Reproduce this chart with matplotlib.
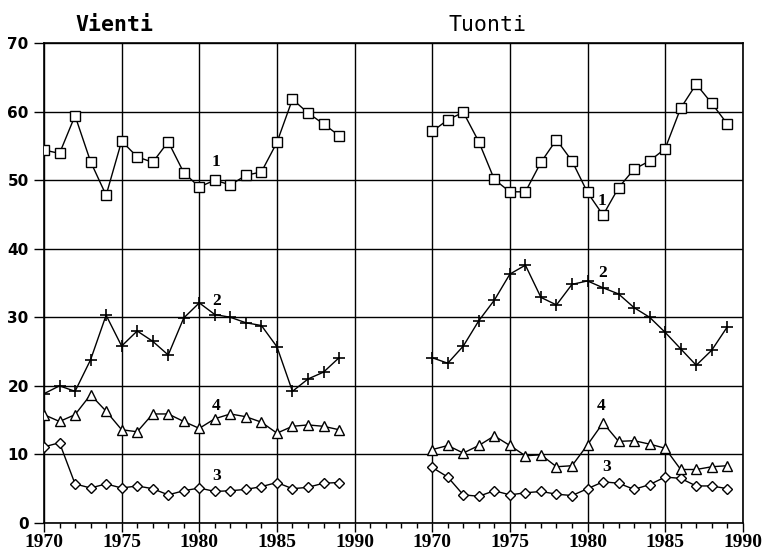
import matplotlib
matplotlib.use("Agg")
import matplotlib.pyplot as plt
from matplotlib.ticker import FixedLocator, MultipleLocator

# vuodet 1970-1989, tuonti piirretään samaan kuvaan 25 vuotta siirrettynä
vuodet = list(range(1970, 1990))
SIIRTO = 25

vienti_1 = [54.4, 53.9, 59.4, 52.7, 47.8, 55.7, 53.4, 52.6, 55.6, 51.1,
            49.0, 50.0, 49.3, 50.7, 51.2, 55.5, 61.8, 59.8, 58.2, 56.5]
vienti_2 = [18.85, 20.0, 19.2, 23.8, 30.3, 25.8, 28.0, 26.5, 24.5, 29.9,
            32.1, 30.4, 30.0, 29.2, 28.8, 25.7, 19.2, 21.0, 22.0, 24.1]
vienti_3 = [11.1, 11.7, 5.7, 5.1, 5.7, 5.1, 5.4, 5.0, 4.1, 4.7,
            5.1, 4.6, 4.7, 4.9, 5.3, 5.9, 5.0, 5.2, 5.8, 5.9]
vienti_4 = [15.8, 14.8, 15.8, 18.7, 16.3, 13.6, 13.3, 15.9, 15.9, 14.8,
            13.8, 15.2, 15.9, 15.5, 14.7, 13.1, 14.1, 14.3, 14.1, 13.6]

tuonti_1 = [57.1, 58.8, 59.9, 55.6, 50.1, 48.3, 48.3, 52.6, 55.9, 52.8,
            48.2, 44.9, 48.9, 51.6, 52.8, 54.6, 60.5, 64.0, 61.2, 58.2]
tuonti_2 = [24.1, 23.3, 25.8, 29.5, 32.5, 36.3, 37.6, 32.9, 31.8, 34.8,
            35.3, 34.3, 33.4, 31.4, 30.0, 27.8, 25.4, 23.0, 25.2, 28.6]
tuonti_3 = [8.1, 6.7, 4.1, 3.9, 4.7, 4.1, 4.4, 4.6, 4.2, 4.0,
            5.0, 6.0, 5.8, 4.9, 5.6, 6.7, 6.5, 5.4, 5.4, 5.0]
tuonti_4 = [10.7, 11.3, 10.2, 11.3, 12.7, 11.3, 9.8, 9.95, 8.2, 8.35,
            11.4, 14.6, 11.9, 12.0, 11.5, 10.9, 7.8, 7.8, 8.2, 8.35]

# sarjojen numerot kuvassa: (x, y)
vienti_nimet = {"1": (1981.05, 52.6), "2": (1981.1, 32.4),
                "4": (1981.1, 17.1), "3": (1981.1, 6.8)}
tuonti_nimet = {"1": (1980.95, 46.9), "2": (1981.0, 36.4),
                "4": (1980.9, 17.0), "3": (1981.2, 8.2)}

x_tikit = list(range(1970, 2016, 5))
x_nimet = ["1970", "1975", "1980", "1985", "1990"] * 2

merkit = {"1": dict(marker="s", ms=7.5),
          "2": dict(marker="+", ms=9, mew=1.2),
          "3": dict(marker="D", ms=5),
          "4": dict(marker="^", ms=7.5)}

fig = plt.figure(figsize=(7.65, 5.55), dpi=100)
ax = fig.add_axes([0.0575, 0.0577, 0.9135, 0.8648])

sarjat = [("1", vienti_1, tuonti_1), ("2", vienti_2, tuonti_2),
          ("3", vienti_3, tuonti_3), ("4", vienti_4, tuonti_4)]
for nimi, v, t in sarjat:
    tyyli = dict(color="black", lw=1.0, mfc="white", mec="black", zorder=3,
                 **merkit[nimi])
    ax.plot(vuodet, v, **tyyli)
    ax.plot([y + SIIRTO for y in vuodet], t, **tyyli)

for nimi, (x, y) in vienti_nimet.items():
    ax.text(x, y, nimi, ha="center", va="center", fontsize=12.5,
            fontweight="bold", family="Liberation Serif")
for nimi, (x, y) in tuonti_nimet.items():
    ax.text(x + SIIRTO, y, nimi, ha="center", va="center", fontsize=12.5,
            fontweight="bold", family="Liberation Serif")

ax.set_xlim(1970, 2015)
ax.set_ylim(0, 70)
ax.xaxis.set_major_locator(FixedLocator(x_tikit))
ax.set_xticklabels(x_nimet, fontsize=14, fontweight="bold",
                   family="Liberation Serif")
ax.xaxis.set_minor_locator(MultipleLocator(1))
ax.yaxis.set_major_locator(MultipleLocator(10))
for lab in ax.get_yticklabels():
    lab.set_fontsize(11)
    lab.set_fontweight("bold")

ax.tick_params(axis="x", which="major", direction="out", length=6.5,
               width=1, pad=1.5)
ax.tick_params(axis="x", which="minor", direction="out", length=3.5,
               width=1)
ax.tick_params(axis="y", direction="out", length=7, width=1, pad=4)

ax.grid(True, which="major", color="black", lw=1)
for s in ax.spines.values():
    s.set_linewidth(1.2)

fig.text(0.150, 0.955, "Vienti", ha="center", va="center", fontsize=15.5,
         fontweight="bold", family="DejaVu Sans Mono")
fig.text(0.637, 0.955, "Tuonti", ha="center", va="center", fontsize=15.5,
         family="DejaVu Sans Mono")

fig.savefig("out.png", dpi=100)
